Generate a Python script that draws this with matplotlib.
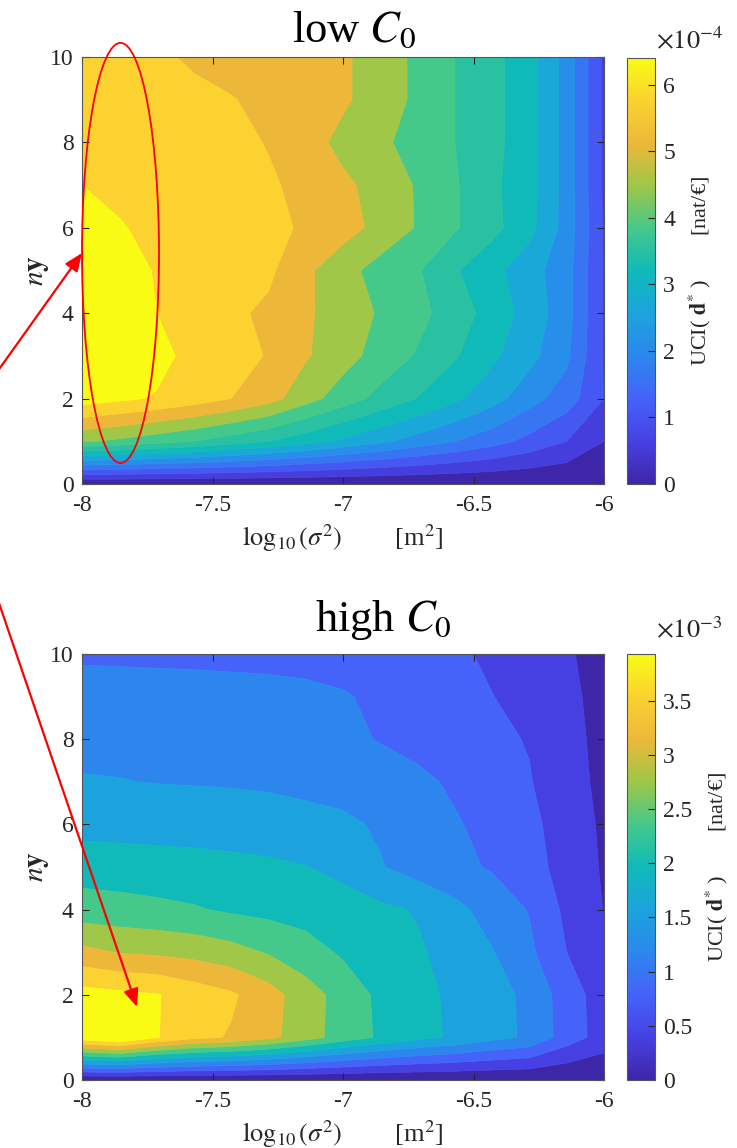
import numpy as np
import matplotlib
matplotlib.use('Agg')
import matplotlib.pyplot as plt
from matplotlib.colors import LinearSegmentedColormap, Normalize
from matplotlib.patches import Ellipse, FancyArrowPatch
import matplotlib.cm as cm

plt.rcParams['font.family'] = ['Liberation Serif', 'DejaVu Serif']
plt.rcParams['mathtext.fontset'] = 'stix'
plt.rcParams['axes.unicode_minus'] = False

# ---------------- data ----------------
log_sigma2 = [-8.000, -7.857, -7.714, -7.571, -7.429, -7.286, -7.143, -7.000,
              -6.857, -6.714, -6.571, -6.429, -6.286, -6.143, -6.000]
ny_values = [0, 1, 2, 3, 4, 5, 6, 7, 8, 9, 10]

# UCI(d*) for low C0, units of 1e-4 nat/EUR (rows: ny = 0..10)
uci_low = [
    [0.00, 0.00, 0.00, 0.00, 0.00, 0.00, 0.00, 0.00, 0.00, 0.00, 0.00, 0.00, 0.00, 0.00, 0.00],
    [4.55, 4.40, 4.20, 4.00, 3.75, 3.50, 3.20, 2.90, 2.60, 2.30, 2.00, 1.70, 1.35, 1.00, 0.50],
    [6.26, 6.10, 5.95, 5.75, 5.50, 5.20, 4.70, 4.25, 3.85, 3.48, 3.10, 2.70, 2.20, 1.75, 1.00],
    [6.35, 6.30, 6.20, 5.80, 5.68, 5.47, 5.05, 4.70, 4.30, 3.95, 3.55, 3.10, 2.65, 2.10, 0.95],
    [6.40, 6.20, 6.00, 5.75, 5.60, 5.40, 5.08, 4.75, 4.45, 4.15, 3.75, 3.30, 2.80, 2.20, 0.95],
    [6.30, 6.12, 5.98, 5.85, 5.72, 5.60, 5.10, 4.68, 4.30, 4.05, 3.55, 3.15, 2.70, 2.20, 0.95],
    [6.12, 6.03, 5.90, 5.80, 5.72, 5.62, 5.44, 5.20, 4.85, 4.46, 4.05, 3.65, 3.15, 2.30, 0.95],
    [6.00, 5.90, 5.80, 5.72, 5.64, 5.55, 5.40, 5.10, 4.82, 4.45, 4.05, 3.60, 3.20, 2.30, 0.90],
    [5.90, 5.80, 5.70, 5.62, 5.60, 5.48, 5.22, 4.85, 4.60, 4.30, 4.00, 3.65, 3.20, 2.30, 0.90],
    [5.85, 5.75, 5.68, 5.58, 5.52, 5.40, 5.25, 5.08, 4.75, 4.40, 4.00, 3.65, 3.20, 2.30, 0.90],
    [5.80, 5.70, 5.56, 5.45, 5.35, 5.25, 5.15, 5.08, 4.75, 4.40, 4.00, 3.65, 3.20, 2.30, 0.90],
]

# UCI(d*) for high C0, units of 1e-3 nat/EUR (rows: ny = 0..10)
uci_high = [
    [0.00, 0.00, 0.00, 0.00, 0.00, 0.00, 0.00, 0.00, 0.00, 0.00, 0.00, 0.00, 0.00, 0.00, 0.00],
    [3.72, 3.93, 3.52, 3.25, 3.12, 2.90, 2.60, 2.30, 2.05, 1.85, 1.70, 1.50, 1.35, 0.88, 0.55],
    [3.64, 3.58, 3.52, 3.35, 3.20, 2.95, 2.60, 2.32, 2.02, 1.85, 1.68, 1.48, 1.35, 0.85, 0.55],
    [2.90, 2.78, 2.74, 2.68, 2.58, 2.42, 2.25, 2.05, 1.95, 1.80, 1.60, 1.42, 1.12, 0.70, 0.42],
    [2.25, 2.22, 2.18, 2.13, 2.05, 2.00, 1.95, 1.90, 1.82, 1.72, 1.50, 1.25, 1.03, 0.62, 0.34],
    [1.95, 1.93, 1.90, 1.88, 1.85, 1.81, 1.76, 1.65, 1.42, 1.25, 1.13, 1.02, 0.82, 0.58, 0.31],
    [1.62, 1.61, 1.60, 1.59, 1.57, 1.55, 1.50, 1.46, 1.36, 1.22, 1.08, 0.95, 0.78, 0.55, 0.29],
    [1.42, 1.41, 1.39, 1.38, 1.37, 1.35, 1.32, 1.28, 1.22, 1.12, 1.00, 0.87, 0.72, 0.48, 0.27],
    [1.32, 1.31, 1.30, 1.29, 1.27, 1.24, 1.20, 1.13, 1.03, 0.95, 0.87, 0.77, 0.68, 0.45, 0.26],
    [1.25, 1.24, 1.23, 1.22, 1.20, 1.18, 1.14, 1.08, 0.98, 0.88, 0.78, 0.71, 0.55, 0.42, 0.25],
    [0.98, 0.97, 0.96, 0.95, 0.94, 0.93, 0.92, 0.90, 0.88, 0.82, 0.78, 0.62, 0.50, 0.38, 0.25],
]

low_levels = [0.0, 0.5, 1.0, 1.5, 2.0, 2.5, 3.0, 3.5, 4.0, 4.5, 5.0, 5.5, 6.0]
high_levels = [0.0, 0.35, 0.70, 1.05, 1.40, 1.75, 2.10, 2.45, 2.80, 3.15, 3.50]

low_cb_ticks = [0, 1, 2, 3, 4, 5, 6]
high_cb_ticks = [0, 0.5, 1, 1.5, 2, 2.5, 3, 3.5]
x_ticks = [-8, -7.5, -7, -6.5, -6]
y_ticks = [0, 2, 4, 6, 8, 10]

# ---------------- style ----------------
parula_anchors = ['#3e26a8', '#4641e3', '#4563f9', '#2b87ed', '#1ca3de', '#0fbab9',
                  '#45c98a', '#9ec748', '#edb83a', '#fbd130', '#f9fb14']
parula = LinearSegmentedColormap.from_list('parula_like', parula_anchors, N=256)

low_fracs = [0.0, 0.09, 0.17, 0.25, 0.33, 0.42, 0.50, 0.55, 0.60, 0.70, 0.80, 0.90, 1.0]
high_fracs = [0.0, 0.1, 0.2, 0.3, 0.4, 0.5, 0.6, 0.7, 0.8, 0.9, 1.0]

W, H = 737, 1148
fig = plt.figure(figsize=(W / 100, H / 100), dpi=100)


def frac_rect(left, top, right, bottom):
    return [left / W, 1 - bottom / H, (right - left) / W, (bottom - top) / H]


TXT = '#262626'
TICK_FS = 17


def draw_panel(ax_rect, cax_rect, Z, levels, fracs, cb_ticks, exp_txt, exp_y, title, title_xy):
    ax = fig.add_axes(frac_rect(*ax_rect))
    cax = fig.add_axes(frac_rect(*cax_rect))
    Z = np.array(Z)
    X, Y = np.meshgrid(log_sigma2, ny_values)
    lev = list(levels) + [Z.max() + 1e-6]
    colors = [parula(f) for f in fracs]
    cs = ax.contourf(X, Y, Z, levels=lev, colors=colors, antialiased=True)
    cs.set_edgecolor('face')
    cs.set_linewidth(0.5)
    ax.set_xlim(-8, -6)
    ax.set_ylim(0, 10)
    ax.set_xticks(x_ticks)
    ax.set_xticklabels(['%g' % t for t in x_ticks])
    ax.set_yticks(y_ticks)
    ax.set_yticklabels(['%g' % t for t in y_ticks])
    ax.tick_params(direction='in', top=True, right=True, length=5, width=0.8,
                   color=TXT, labelcolor=TXT, labelsize=TICK_FS)
    ax.tick_params(axis='x', pad=8)
    ax.tick_params(axis='y', pad=6)
    for s in ax.spines.values():
        s.set_color('#555555')
        s.set_linewidth(0.8)
    ax.set_xlabel(r'$\log_{10}(\sigma^2)$        [m$^2$]', fontsize=19, color=TXT)
    ax.xaxis.label.set_va('center')
    ax.xaxis.set_label_coords(0.5, -0.126)
    ax.set_ylabel(r'$n\mathbf{y}$', fontsize=21, color=TXT)
    ax.yaxis.label.set_va('center')
    ax.yaxis.set_label_coords(-0.084, 0.5)

    sm = cm.ScalarMappable(norm=Normalize(0, Z.max()), cmap=parula)
    cb = fig.colorbar(sm, cax=cax)
    cb.set_ticks(cb_ticks)
    cb.set_ticklabels(['%g' % t for t in cb_ticks])
    cb.outline.set_edgecolor('#555555')
    cb.outline.set_linewidth(0.8)
    cax.tick_params(direction='in', length=5, width=0.8, color=TXT,
                    labelcolor=TXT, labelsize=TICK_FS, pad=6)
    cb.set_label(r'UCI( $\mathbf{d}^{*}$ )        [nat/€]', fontsize=16, color=TXT, labelpad=8)
    fig.text(656 / W, 1 - exp_y / H, exp_txt, fontsize=19, color=TXT,
             ha='left', va='baseline')
    fig.text(title_xy[0] / W, 1 - title_xy[1] / H, title, fontsize=32,
             ha='center', va='baseline', color='black')
    return ax


ax_top = draw_panel((82, 57, 604, 484), (627, 58, 655, 484), uci_low, low_levels, low_fracs,
                    low_cb_ticks, r'$\times10^{-4}$', 48, r'low $C_0$', (354, 42))
ax_bot = draw_panel((82, 654, 604, 1080), (627, 654, 655, 1080), uci_high, high_levels, high_fracs,
                    high_cb_ticks, r'$\times10^{-3}$', 638, r'high $C_0$', (383, 631))

# red annotations
ell = Ellipse((-7.8525, 5.41), 0.295, 9.84, fill=False, ec='red', lw=1.3,
              clip_on=False, zorder=6)
ax_top.add_patch(ell)

origin = (-55 / 100, (H - 445) / 100)
for tip in [(82, 253), (137, 1007)]:
    arr = FancyArrowPatch(origin, (tip[0] / 100, (H - tip[1]) / 100),
                          transform=fig.dpi_scale_trans,
                          arrowstyle='-|>,head_length=0.6,head_width=0.25',
                          mutation_scale=18, color='red', lw=1.6,
                          shrinkA=0, shrinkB=0, zorder=10)
    fig.add_artist(arr)

fig.savefig('out.png', dpi=100)
